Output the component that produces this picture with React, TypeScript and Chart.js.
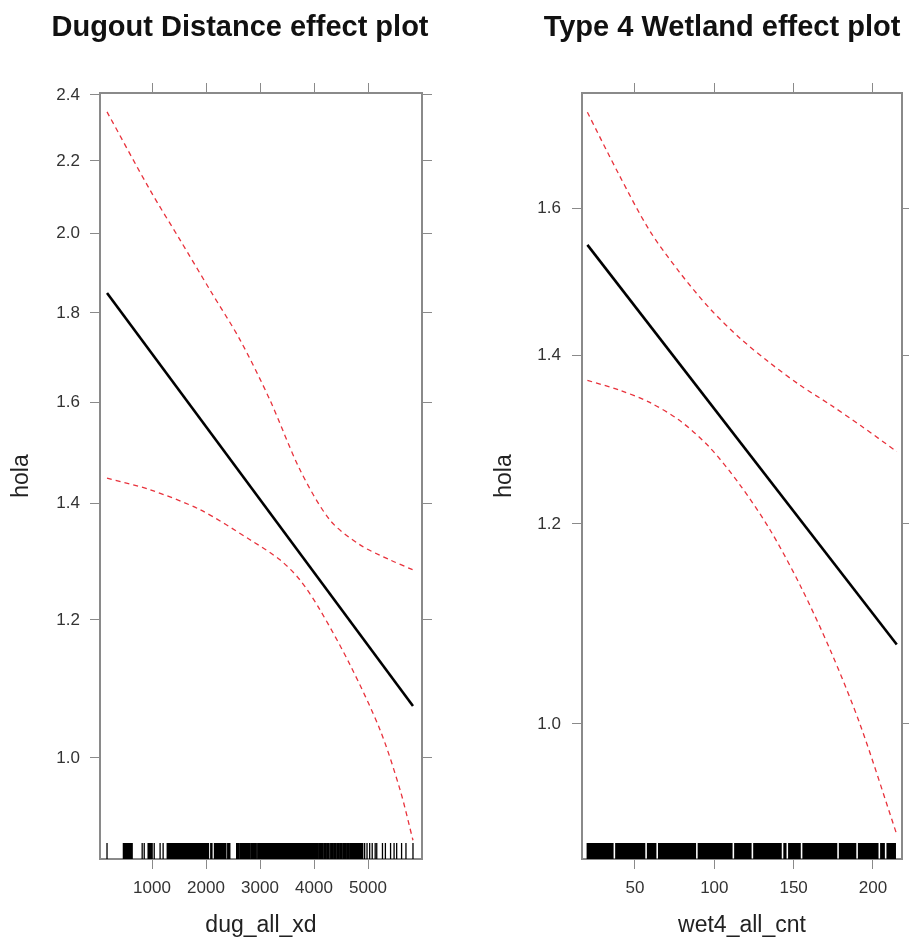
import React, { useEffect, useRef } from "react";
import { Chart, registerables } from "chart.js";
Chart.register(...registerables);

// ---------- text ----------
const leftTitle = "Dugout Distance effect plot";
const rightTitle = "Type 4 Wetland effect plot";
const yLabel = "hola";
const leftXLabel = "dug_all_xd";
const rightXLabel = "wet4_all_cnt";

// ---------- ticks ----------
const leftXTicks = [1000, 2000, 3000, 4000, 5000];
const leftYTicks = [1.0, 1.2, 1.4, 1.6, 1.8, 2.0, 2.2, 2.4];
const rightXTicks = [50, 100, 150, 200];
const rightYTicks = [1.0, 1.2, 1.4, 1.6];

// ---------- axis ranges ----------
const leftXRange = [37, 6000];
const leftYRange = [0.8751, 2.4063];
const rightXRange = [16.6, 218.3];
const rightYRange = [0.884, 1.778];

// ---------- left panel series ----------
const leftFitX = [167, 5833];
const leftFitY = [1.848, 1.071];
const leftUpperX = [167, 963, 1519, 2074, 2630, 3185, 3741, 4296, 4852, 5407, 5833];
const leftUpperY = [2.347, 2.117, 1.982, 1.855, 1.737, 1.604, 1.463, 1.369, 1.325, 1.299, 1.282];
const leftLowerX = [167, 963, 1889, 2815, 3370, 3741, 4111, 4667, 5222, 5593, 5833];
const leftLowerY = [1.447, 1.425, 1.388, 1.334, 1.299, 1.265, 1.216, 1.131, 1.038, 0.959, 0.897];
const leftRug = [
  167, 470, 488, 505, 526, 548, 570, 592, 612, 633, 818, 856, 928, 946, 965, 984,
  1003, 1041, 1150, 1206, 1282, 1293, 1301, 1315, 1328, 1343, 1361, 1379, 1398,
  1418, 1436, 1452, 1470, 1488, 1507, 1527, 1545, 1562, 1583, 1604, 1622, 1641,
  1660, 1677, 1698, 1718, 1737, 1757, 1775, 1792, 1813, 1834, 1855, 1877, 1898,
  1919, 1938, 1958, 1981, 2003, 2024, 2046, 2088, 2110, 2157, 2178, 2198, 2221,
  2243, 2262, 2281, 2305, 2327, 2348, 2368, 2402, 2421, 2441, 2568, 2586, 2603,
  2629, 2647, 2664, 2683, 2702, 2721, 2738, 2753, 2771, 2788, 2803, 2829, 2846,
  2864, 2881, 2897, 2915, 2931, 2958, 2975, 2992, 3006, 3017, 3029, 3041, 3058,
  3071, 3083, 3101, 3118, 3131, 3142, 3163, 3179, 3191, 3204, 3219, 3232, 3243,
  3262, 3277, 3289, 3301, 3322, 3338, 3349, 3361, 3377, 3390, 3403, 3418, 3431,
  3442, 3461, 3479, 3490, 3502, 3518, 3530, 3543, 3561, 3577, 3590, 3603, 3619,
  3631, 3641, 3662, 3678, 3690, 3703, 3718, 3730, 3742, 3759, 3781, 3798, 3810,
  3822, 3839, 3863, 3878, 3890, 3901, 3922, 3938, 3950, 3962, 3979, 4003, 4018,
  4030, 4042, 4061, 4078, 4103, 4116, 4128, 4146, 4162, 4188, 4205, 4222, 4247,
  4263, 4281, 4309, 4325, 4343, 4368, 4385, 4402, 4428, 4446, 4463, 4488, 4505,
  4522, 4548, 4565, 4583, 4608, 4625, 4642, 4667, 4685, 4703, 4722, 4741, 4760,
  4778, 4800, 4822, 4840, 4858, 4881, 4903, 4938, 4982, 5031, 5078, 5133, 5162,
  5268, 5322, 5418, 5483, 5531, 5622, 5703, 5833,
];

// ---------- right panel series ----------
const rightFitX = [20, 215];
const rightFitY = [1.548, 1.075];
const rightUpperX = [20, 40, 59, 78, 97, 116, 135, 154, 173, 192, 215];
const rightUpperY = [1.747, 1.65, 1.569, 1.51, 1.461, 1.422, 1.39, 1.362, 1.338, 1.313, 1.282];
const rightLowerX = [20, 40, 59, 78, 97, 116, 135, 154, 173, 192, 215];
const rightLowerY = [1.368, 1.356, 1.341, 1.319, 1.287, 1.244, 1.194, 1.135, 1.07, 0.999, 0.904];
const rightRug = [
  20, 21, 22, 23, 24, 25, 26, 27, 28, 29, 30, 31, 32, 33, 34, 35, 36, 38, 39, 40,
  41, 42, 43, 44, 45, 46, 47, 48, 49, 50, 51, 52, 53, 54, 55, 56, 58, 59, 60, 61,
  62, 63, 65, 66, 67, 68, 69, 70, 71, 72, 73, 74, 75, 76, 77, 78, 79, 80, 81, 82,
  83, 84, 85, 86, 87, 88, 90, 91, 92, 93, 94, 95, 96, 97, 98, 99, 100, 101, 102,
  103, 104, 105, 106, 107, 108, 109, 110, 111, 113, 114, 115, 116, 117, 118, 119,
  120, 121, 122, 123, 125, 126, 127, 128, 129, 130, 131, 132, 133, 134, 135, 136,
  137, 138, 139, 140, 141, 142, 144, 145, 147, 148, 149, 150, 151, 152, 153, 154,
  156, 157, 158, 159, 160, 161, 162, 163, 164, 165, 166, 167, 168, 169, 170, 171,
  172, 173, 174, 175, 176, 177, 179, 180, 181, 182, 183, 184, 185, 186, 187, 188,
  189, 191, 192, 193, 194, 195, 196, 197, 198, 199, 200, 201, 202, 203, 205, 206,
  207, 209, 210, 211, 212, 213, 214,
];

// ---------- styling ----------
const FONT = "'Liberation Sans', Arial, Helvetica, sans-serif";
const GRAY = "#8a8a8a";
const TICK_TEXT = "#333333";
const FIT_COLOR = "#000000";
const BAND_COLOR = "#e8323c";

const rugPlugin = {
  id: "rug",
  afterDatasetsDraw(chart: any, _args: any, opts: any) {
    const xs = chart.scales.x;
    const { bottom } = chart.chartArea;
    const ctx = chart.ctx;
    ctx.save();
    ctx.strokeStyle = opts.color || "#000";
    ctx.lineWidth = opts.lineWidth || 1;
    ctx.beginPath();
    for (const v of opts.values || []) {
      const px = xs.getPixelForValue(v);
      ctx.moveTo(px, bottom);
      ctx.lineTo(px, bottom - (opts.length || 16));
    }
    ctx.stroke();
    ctx.restore();
  },
};

const toPts = (xs: number[], ys: number[]) => xs.map((x, i) => ({ x, y: ys[i] }));

interface PanelProps {
  left: number;
  width: number;
  title: string;
  xLabel: string;
  xTicks: number[];
  yTicks: number[];
  xRange: number[];
  yRange: number[];
  fitX: number[];
  fitY: number[];
  upX: number[];
  upY: number[];
  loX: number[];
  loY: number[];
  rug: number[];
  rugWidth: number;
  yAxisWidth: number;
  y2Width: number;
  yTitlePad: number;
  yTickPad: number;
}

const HEIGHT = 948;
const TITLE_TOP = 10;
const TITLE_SIZE = 29;
const TITLE_LH = 1.25;
const PLOT_TOP = 93;
const PLOT_BOTTOM = 859;

function Panel(p: PanelProps) {
  const ref = useRef<HTMLCanvasElement | null>(null);
  useEffect(() => {
    if (!ref.current) return;
    const setTicks = (vals: number[]) => (axis: any) => {
      axis.ticks = vals.map((v) => ({ value: v }));
    };
    const grid = {
      display: true,
      drawOnChartArea: false,
      drawTicks: true,
      tickLength: 10,
      color: GRAY,
      lineWidth: 1,
    };
    const border = { display: true, color: GRAY, width: 2 };
    const tickFont = { family: FONT, size: 17 };
    const titleBlock = TITLE_TOP + TITLE_SIZE * TITLE_LH;
    const chart = new Chart(ref.current, {
      type: "line",
      data: {
        datasets: [
          {
            data: toPts(p.upX, p.upY),
            borderColor: BAND_COLOR,
            borderWidth: 1.3,
            borderDash: [5, 4],
            pointRadius: 0,
            tension: 0.3,
            xAxisID: "x",
            yAxisID: "y",
          },
          {
            data: toPts(p.loX, p.loY),
            borderColor: BAND_COLOR,
            borderWidth: 1.3,
            borderDash: [5, 4],
            pointRadius: 0,
            tension: 0.3,
            xAxisID: "x",
            yAxisID: "y",
          },
          {
            data: toPts(p.fitX, p.fitY),
            borderColor: FIT_COLOR,
            borderWidth: 2.6,
            pointRadius: 0,
            tension: 0,
            xAxisID: "x",
            yAxisID: "y",
          },
        ],
      },
      options: {
        animation: false,
        responsive: false,
        devicePixelRatio: 1,
        layout: { padding: 0 },
        plugins: {
          legend: { display: false },
          tooltip: { enabled: false },
          title: {
            display: true,
            text: p.title,
            color: "#111111",
            font: { family: FONT, size: TITLE_SIZE, weight: "bold", lineHeight: TITLE_LH },
            padding: { top: TITLE_TOP, bottom: 0 },
          },
          // @ts-ignore
          rug: { values: p.rug, length: 16, color: "#000", lineWidth: p.rugWidth },
        },
        scales: {
          x: {
            type: "linear",
            position: "bottom",
            min: p.xRange[0],
            max: p.xRange[1],
            bounds: "data",
            afterBuildTicks: setTicks(p.xTicks),
            ticks: {
              autoSkip: false,
              maxRotation: 0,
              padding: 9,
              color: TICK_TEXT,
              font: tickFont,
              callback: (v: any) => String(v),
            },
            grid,
            border,
            title: {
              display: true,
              text: p.xLabel,
              color: "#222222",
              font: { family: FONT, size: 23 },
              padding: { top: 0, bottom: 9 },
            },
            afterFit: (s: any) => {
              s.height = HEIGHT - PLOT_BOTTOM;
            },
          },
          x2: {
            type: "linear",
            position: "top",
            min: p.xRange[0],
            max: p.xRange[1],
            bounds: "data",
            afterBuildTicks: setTicks(p.xTicks),
            ticks: { display: false },
            grid,
            border,
            afterFit: (s: any) => {
              s.height = PLOT_TOP - titleBlock;
            },
          },
          y: {
            type: "logarithmic",
            position: "left",
            min: p.yRange[0],
            max: p.yRange[1],
            bounds: "data",
            afterBuildTicks: setTicks(p.yTicks),
            ticks: {
              autoSkip: false,
              padding: p.yTickPad,
              color: TICK_TEXT,
              font: tickFont,
              callback: (v: any) => Number(v).toFixed(1),
            },
            grid,
            border,
            title: {
              display: true,
              text: yLabel,
              color: "#222222",
              font: { family: FONT, size: 23 },
              padding: { top: p.yTitlePad, bottom: 0 },
            },
            afterFit: (s: any) => {
              s.width = p.yAxisWidth;
            },
          },
          y2: {
            type: "logarithmic",
            position: "right",
            min: p.yRange[0],
            max: p.yRange[1],
            bounds: "data",
            afterBuildTicks: setTicks(p.yTicks),
            ticks: { display: false },
            grid,
            border,
            afterFit: (s: any) => {
              s.width = p.y2Width;
            },
          },
        },
      } as any,
      plugins: [rugPlugin as any],
    });
    return () => chart.destroy();
  }, []);
  return (
    <canvas
      ref={ref}
      width={p.width}
      height={HEIGHT}
      style={{ position: "absolute", left: p.left, top: 0, width: p.width, height: HEIGHT }}
    />
  );
}

export default function App() {
  return (
    <div
      style={{
        position: "absolute",
        left: 0,
        top: 0,
        width: 909,
        height: HEIGHT,
        overflow: "hidden",
        background: "#ffffff",
      }}
    >
      <Panel
        left={0}
        width={480}
        title={leftTitle}
        xLabel={leftXLabel}
        xTicks={leftXTicks}
        yTicks={leftYTicks}
        xRange={leftXRange}
        yRange={leftYRange}
        fitX={leftFitX}
        fitY={leftFitY}
        upX={leftUpperX}
        upY={leftUpperY}
        loX={leftLowerX}
        loY={leftLowerY}
        rug={leftRug}
        rugWidth={1.3}
        yAxisWidth={100}
        y2Width={58}
        yTitlePad={8}
        yTickPad={10}
      />
      <Panel
        left={490}
        width={464}
        title={rightTitle}
        xLabel={rightXLabel}
        xTicks={rightXTicks}
        yTicks={rightYTicks}
        xRange={rightXRange}
        yRange={rightYRange}
        fitX={rightFitX}
        fitY={rightFitY}
        upX={rightUpperX}
        upY={rightUpperY}
        loX={rightLowerX}
        loY={rightLowerY}
        rug={rightRug}
        rugWidth={1.6}
        yAxisWidth={92}
        y2Width={52}
        yTitlePad={1}
        yTickPad={11}
      />
    </div>
  );
}
